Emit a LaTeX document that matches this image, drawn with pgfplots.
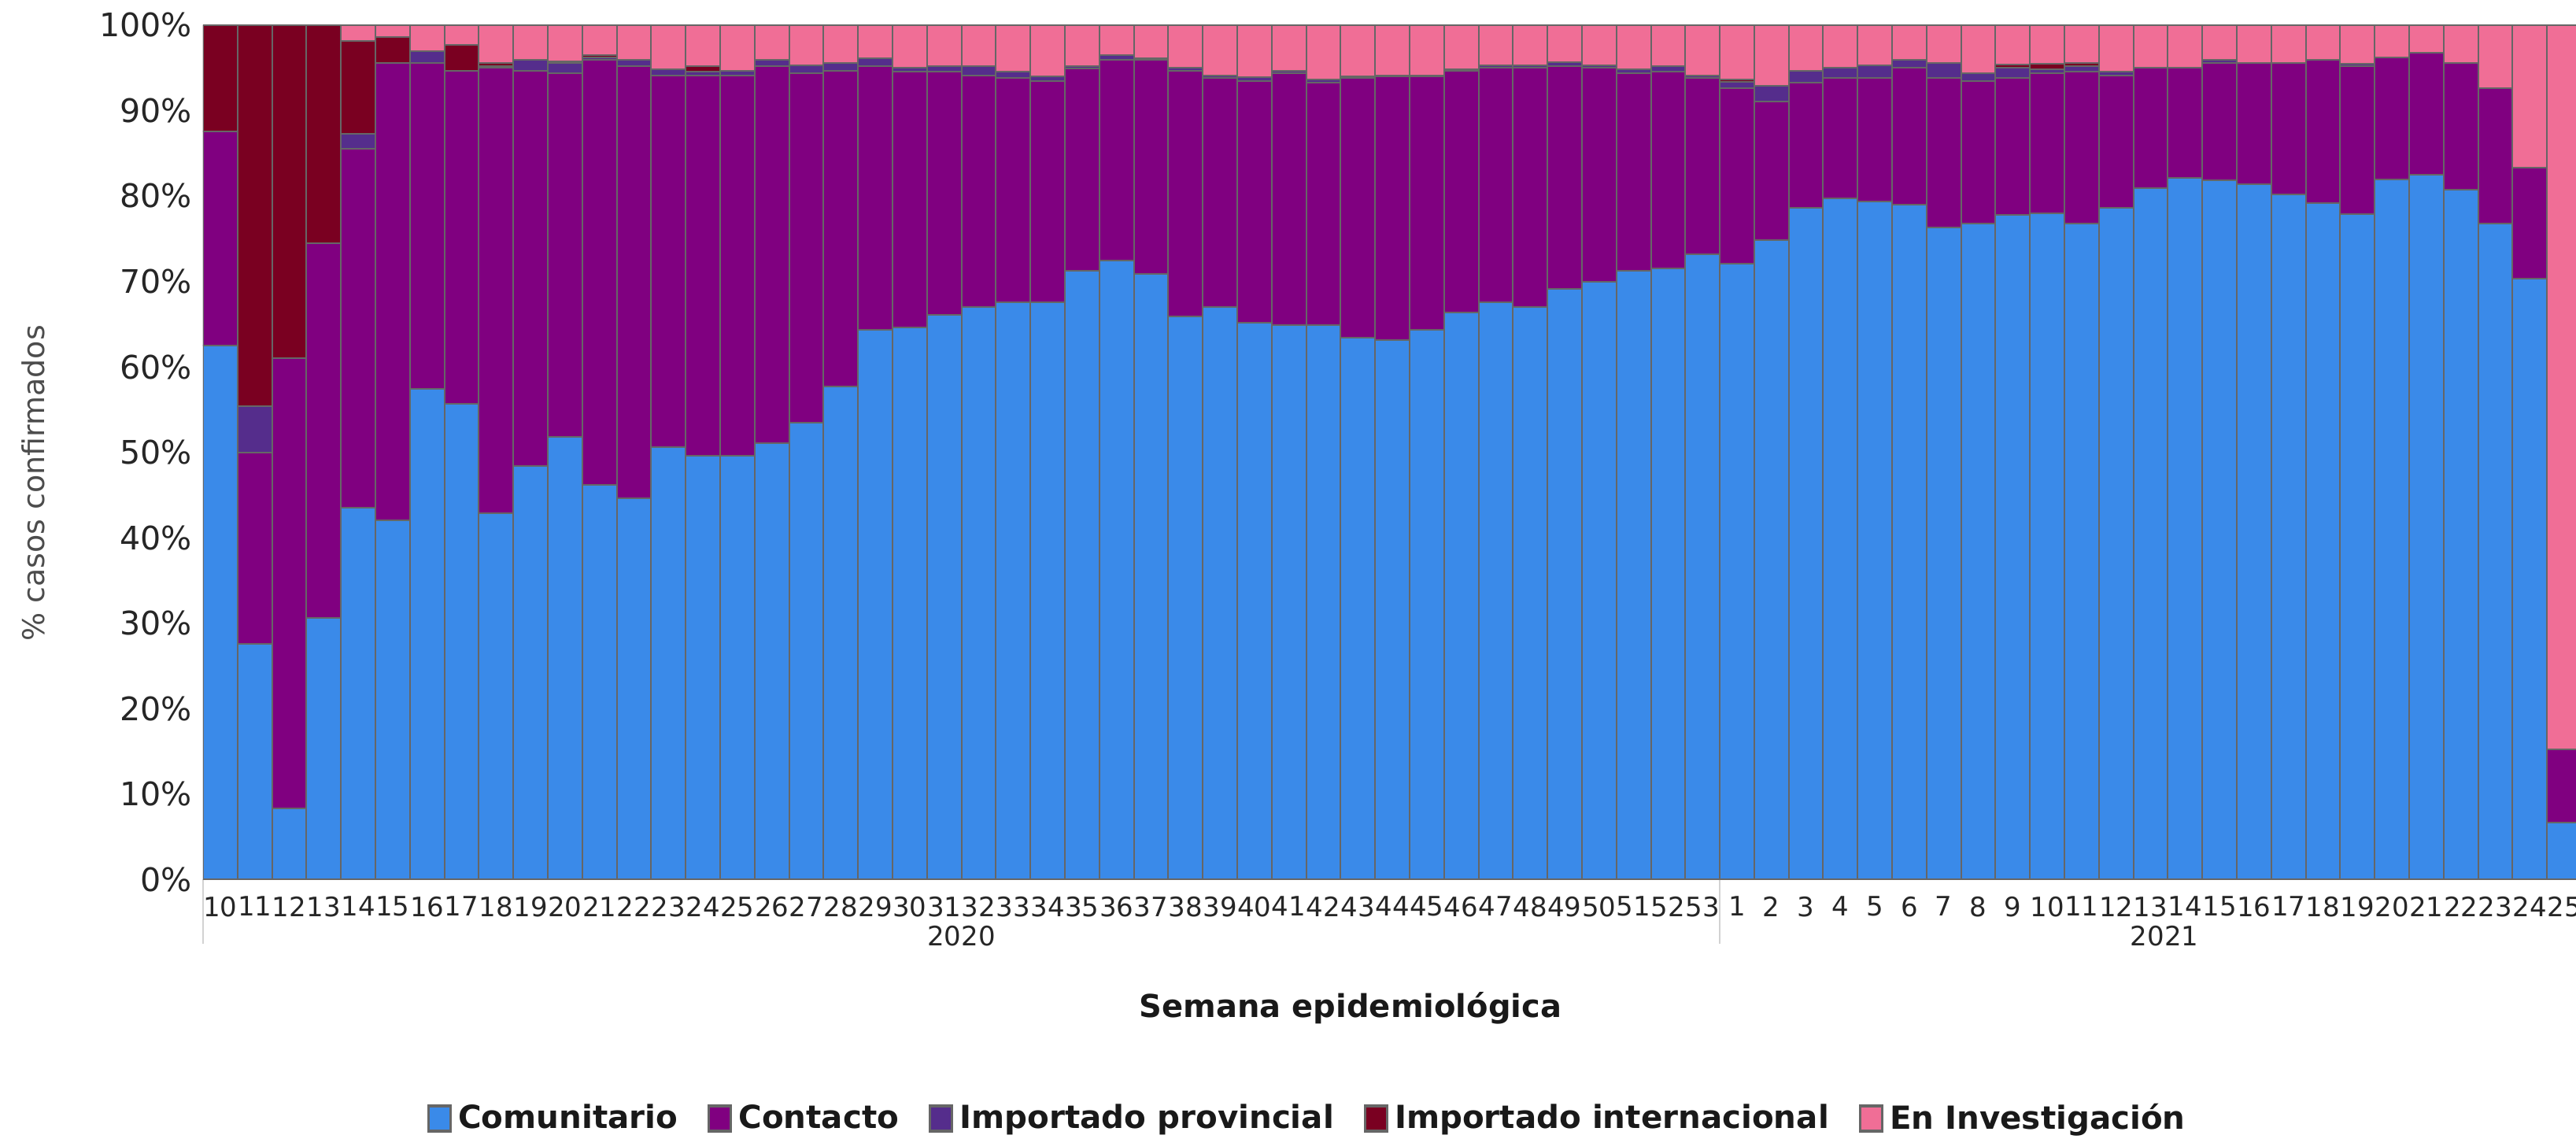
\documentclass[border=0pt]{standalone}
\usepackage{fontspec}
\setmainfont{DejaVu Sans}
\usepackage{pgfplots}
\pgfplotsset{compat=1.18}
\usepackage{pgfplotstable}

\definecolor{ccom}{RGB}{58,138,233}
\definecolor{ccon}{RGB}{128,0,128}
\definecolor{cip}{RGB}{85,45,140}
\definecolor{cii}{RGB}{122,0,33}
\definecolor{cei}{RGB}{240,110,150}
\definecolor{bord}{RGB}{102,102,102}
\definecolor{sep}{RGB}{210,210,210}

\pgfplotstableread{
x com con ip ii ei
0 62.5 25.1 0 12.4 0
1 27.6 22.4 5.4 44.6 0
2 8.3 52.7 0 39.0 0
3 30.6 43.9 0 25.5 0
4 43.5 42.0 1.8 10.9 1.8
5 42.0 53.6 0 3.0 1.4
6 57.4 38.2 1.4 0 3.0
7 55.7 39.0 0 3.0 2.3
8 42.9 52.1 0.2 0.4 4.4
9 48.4 46.3 1.2 0 4.1
10 51.8 42.6 1.2 0.2 4.2
11 46.2 49.7 0.3 0.3 3.5
12 44.6 50.6 0.7 0 4.1
13 50.6 43.5 0.7 0 5.2
14 49.6 44.5 0.5 0.6 4.8
15 49.6 44.5 0.6 0 5.3
16 51.1 44.1 0.7 0 4.1
17 53.5 40.9 0.9 0 4.7
18 57.7 37.0 0.9 0 4.4
19 64.3 30.9 0.9 0 3.9
20 64.6 30.0 0.4 0 5.0
21 66.1 28.5 0.6 0 4.8
22 67.0 27.1 1.1 0 4.8
23 67.6 26.2 0.8 0 5.4
24 67.6 25.9 0.5 0 6.0
25 71.2 23.7 0.3 0 4.8
26 72.4 23.5 0.6 0 3.5
27 70.9 25.0 0.2 0 3.9
28 65.9 28.8 0.3 0 5.0
29 67.0 26.8 0.3 0 5.9
30 65.2 28.3 0.4 0 6.1
31 64.9 29.5 0.3 0 5.3
32 64.9 28.4 0.3 0 6.4
33 63.4 30.4 0.2 0 6.0
34 63.1 30.9 0.1 0 5.9
35 64.3 29.7 0.1 0 5.9
36 66.4 28.3 0.1 0 5.2
37 67.6 27.4 0.3 0 4.7
38 67.0 28.0 0.3 0 4.7
39 69.1 26.1 0.5 0 4.3
40 70.0 25.0 0.3 0 4.7
41 71.2 23.2 0.4 0 5.2
42 71.5 23.1 0.6 0 4.8
43 73.2 20.6 0.3 0 5.9
44 72.1 20.5 0.8 0.2 6.4
45 74.8 16.3 1.8 0 7.1
46 78.6 14.7 1.4 0 5.3
47 79.7 14.1 1.2 0 5.0
48 79.4 14.4 1.5 0 4.7
49 79.0 16.0 0.9 0 4.1
50 76.3 17.5 1.8 0 4.4
51 76.8 16.7 0.9 0 5.6
52 77.8 16.0 1.2 0.4 4.6
53 78.0 16.4 0.4 0.7 4.5
54 76.8 17.8 0.6 0.4 4.4
55 78.6 15.5 0.5 0 5.4
56 80.9 14.1 0 0 5.0
57 82.1 12.9 0 0 5.0
58 81.8 13.8 0.3 0 4.1
59 81.4 14.2 0 0 4.4
60 80.2 15.4 0 0 4.4
61 79.2 16.7 0 0 4.1
62 77.9 17.3 0.3 0 4.5
63 81.9 14.3 0 0 3.8
64 82.5 14.3 0 0 3.2
65 80.7 14.9 0 0 4.4
66 76.8 15.8 0 0 7.4
67 70.3 13.0 0 0 16.7
68 6.6 8.6 0 0 84.8
}\data

\pgfplotsset{
  mylegend/.style={legend image code/.code={\draw[##1,draw=bord,line width=0.8pt] (0pt,-4pt) rectangle (7pt,4pt);}},
}

\begin{document}
\begin{tikzpicture}
\begin{axis}[
  at={(0,0)}, anchor=south west,
  scale only axis, width=753.75pt, height=271.25pt,
  xmin=-0.5, xmax=68.34, ymin=0, ymax=100,
  ybar stacked, bar width=1,
  clip mode=individual,
  axis line style={draw=none},
  tick style={draw=none},
  xtick={0,...,68},
  xticklabels={10,11,12,13,14,15,16,17,18,19,20,21,22,23,24,25,26,27,28,29,30,31,32,33,34,35,36,37,38,39,40,41,42,43,44,45,46,47,48,49,50,51,52,53,1,2,3,4,5,6,7,8,9,10,11,12,13,14,15,16,17,18,19,20,21,22,23,24,25},
  ytick={0,10,...,100},
  yticklabel={\pgfmathprintnumber{\tick}\%},
  /pgf/number format/assume math mode=true,
  yticklabel style={font=\fontsize{10.3}{12}\selectfont, text=black!85},
  xticklabel style={font=\fontsize{8.5}{10}\selectfont, text=black!85, yshift=-2pt},
  xlabel={Semana epidemiológica},
  xlabel style={at={(axis description cs:0.4836,-0.1512)}, anchor=center, font=\bfseries\fontsize{10}{12}\selectfont, text=black!90},
  ylabel={\% casos confirmados},
  ylabel style={at={(axis description cs:-0.0716,0.4636)}, anchor=center, rotate=0, font=\fontsize{9.5}{11}\selectfont, text=black!70},
  legend columns=5,
  legend style={at={(axis description cs:0.4663,-0.2802)}, anchor=center, draw=none, fill=none,
    font=\bfseries\fontsize{10.1}{12}\selectfont, text=black!90,
    /tikz/every odd column/.append style={column sep=0pt},
    /tikz/every even column/.append style={column sep=7.5pt}},
]
\addplot[fill=ccom, draw=bord, line width=0.5pt, mylegend] table[x=x,y=com]{\data};
\addlegendentry{Comunitario}
\addplot[fill=ccon, draw=bord, line width=0.5pt, mylegend] table[x=x,y=con]{\data};
\addlegendentry{Contacto}
\addplot[fill=cip, draw=bord, line width=0.5pt, mylegend] table[x=x,y=ip]{\data};
\addlegendentry{Importado provincial}
\addplot[fill=cii, draw=bord, line width=0.5pt, mylegend] table[x=x,y=ii]{\data};
\addlegendentry{Importado internacional}
\addplot[fill=cei, draw=bord, line width=0.5pt, mylegend] table[x=x,y=ei]{\data};
\addlegendentry{En Investigación}
\draw[sep, line width=0.4pt] (axis cs:-0.5,0) -- ++(0pt,-20.5pt);
\draw[sep, line width=0.4pt] (axis cs:43.5,0) -- ++(0pt,-20.5pt);
\node[font=\fontsize{8.5}{10}\selectfont, text=black!85] at ([yshift=-18pt]axis cs:21.5,0) {2020};
\node[font=\fontsize{8.5}{10}\selectfont, text=black!85] at ([yshift=-18pt]axis cs:56.4,0) {2021};
\end{axis}
\pgfresetboundingbox
\useasboundingbox (-64.5pt,-82.25pt) rectangle (753.75pt,279.25pt);
\end{tikzpicture}
\end{document}
